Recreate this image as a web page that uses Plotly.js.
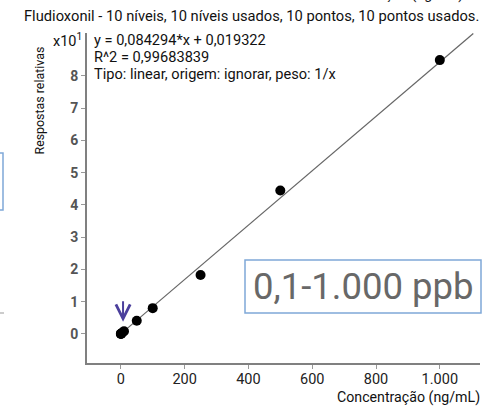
<!DOCTYPE html>
<html>
<head>
<meta charset="utf-8">
<script src="https://cdn.plot.ly/plotly-3.0.1.min.js"></script>
<style>html,body{margin:0;padding:0;background:#fff;}#chart{width:499px;height:408px;}</style>
</head>
<body>
<div id="chart"></div>
<script>
// Data (y in units of x10^1)
var concentration = [0.1, 0.5, 1, 5, 10, 50, 100, 250, 500, 1000];
var response = [0.001, 0.005, 0.01, 0.045, 0.085, 0.41, 0.80, 1.83, 4.45, 8.49];
var fitX = [0, 1105];
var fitY = [0.0019, 9.316];
var xTickVals = [0, 200, 400, 600, 800, 1000];
var xTickText = ['0', '200', '400', '600', '800', '1.000'];
var yTickVals = [0, 1, 2, 3, 4, 5, 6, 7, 8];
var yTickText = ['0', '1', '2', '3', '4', '5', '6', '7', '8'];
var titleText = 'Fludioxonil - 10 níveis, 10 níveis usados, 10 pontos, 10 pontos usados.';
var eqLines = ['y = 0,084294*x + 0,019322', 'R^2 = 0,99683839', 'Tipo: linear, origem: ignorar, peso: 1/x'];
var rangeLabel = '0,1-1.000 ppb';

var W = 499, H = 408, L = 87, R = 480, T = 33, B = 363;
function px(x) { return (x - L) / (R - L); }
function py(y) { return (B - y) / (B - T); }
var FONT = 'Roboto, "Open Sans", sans-serif';

var traces = [
  {x: fitX, y: fitY, mode: 'lines', line: {color: '#666666', width: 1.2}, hoverinfo: 'skip', cliponaxis: false},
  {x: concentration, y: response, mode: 'markers', marker: {color: '#000', size: 10}, cliponaxis: false}
];

var ann = [
  {xref: 'paper', yref: 'paper', x: px(251.5), y: py(16), text: titleText, showarrow: false,
   font: {family: FONT, size: 14.7, color: '#111'}, xanchor: 'center', yanchor: 'middle'},
  {xref: 'paper', yref: 'paper', x: px(38.5), y: py(101), text: 'Respostas relativas', showarrow: false, textangle: -90,
   font: {family: FONT, size: 12.4, color: '#111'}, xanchor: 'center', yanchor: 'middle'},
  {xref: 'paper', yref: 'paper', x: px(84), y: py(40), text: 'x10<sup>1</sup>', showarrow: false,
   font: {family: FONT, size: 14.5, color: '#111'}, xanchor: 'right', yanchor: 'middle'},
  {xref: 'paper', yref: 'paper', x: px(482), y: py(397.5), text: 'Concentração (ng/mL)', showarrow: false,
   font: {family: FONT, size: 14.2, color: '#111'}, xanchor: 'right', yanchor: 'middle'},
  {xref: 'paper', yref: 'paper', x: px(465), y: py(-6), text: 'Concentração (ng/mL)', showarrow: false,
   font: {family: FONT, size: 14.2, color: '#111'}, xanchor: 'right', yanchor: 'middle'},
  {xref: 'paper', yref: 'paper', x: px(363), y: py(286.5), text: rangeLabel, showarrow: false,
   font: {family: FONT, size: 36.5, color: '#686868'}, xanchor: 'center', yanchor: 'middle'},
  {xref: 'x', yref: 'y', x: 7, y: 0.38, ax: 0, ay: -22, axref: 'pixel', ayref: 'pixel', text: '', showarrow: true,
   arrowhead: 5, arrowsize: 1.4, arrowwidth: 2, arrowcolor: '#4b3f9c'}
];
for (var i = 0; i < eqLines.length; i++) {
  ann.push({xref: 'paper', yref: 'paper', x: px(92), y: py(40 + 17 * i), text: eqLines[i], showarrow: false,
    font: {family: FONT, size: 14.6, color: '#111'}, xanchor: 'left', yanchor: 'middle'});
}

var shapes = [
  {type: 'rect', xref: 'paper', yref: 'paper', x0: px(245), x1: px(481), y0: py(313), y1: py(260),
   line: {color: '#7fa8d8', width: 1.5}},
  {type: 'rect', xref: 'paper', yref: 'paper', x0: px(-10), x1: px(3), y0: py(210), y1: py(153),
   line: {color: '#7fa8d8', width: 1.5}},
  {type: 'line', xref: 'paper', yref: 'paper', x0: px(0), x1: px(4), y0: py(313), y1: py(313),
   line: {color: '#999', width: 1}}
];

var layout = {
  width: W, height: H,
  margin: {l: L, r: W - R, t: T, b: H - B, pad: 0},
  paper_bgcolor: '#fff', plot_bgcolor: '#fff',
  showlegend: false,
  font: {family: FONT},
  xaxis: {range: [-106, 1126], tickvals: xTickVals, ticktext: xTickText, showline: true, linecolor: '#808080',
    linewidth: 2, ticks: 'outside', ticklen: 4, tickcolor: '#999', tickwidth: 1, showgrid: false, zeroline: false,
    ticklabelstandoff: -2, tickfont: {family: FONT, size: 14.5, color: '#222'}},
  yaxis: {range: [-0.9, 9.33], tickvals: yTickVals, ticktext: yTickText, showline: true, linecolor: '#808080',
    linewidth: 2, ticks: 'outside', ticklen: 4, tickcolor: '#999', tickwidth: 1, showgrid: false, zeroline: false,
    tickfont: {family: FONT, size: 14, color: '#555', weight: 'bold'}},
  annotations: ann,
  shapes: shapes
};

Plotly.newPlot('chart', traces, layout, {staticPlot: true, displayModeBar: false});
</script>
</body>
</html>
